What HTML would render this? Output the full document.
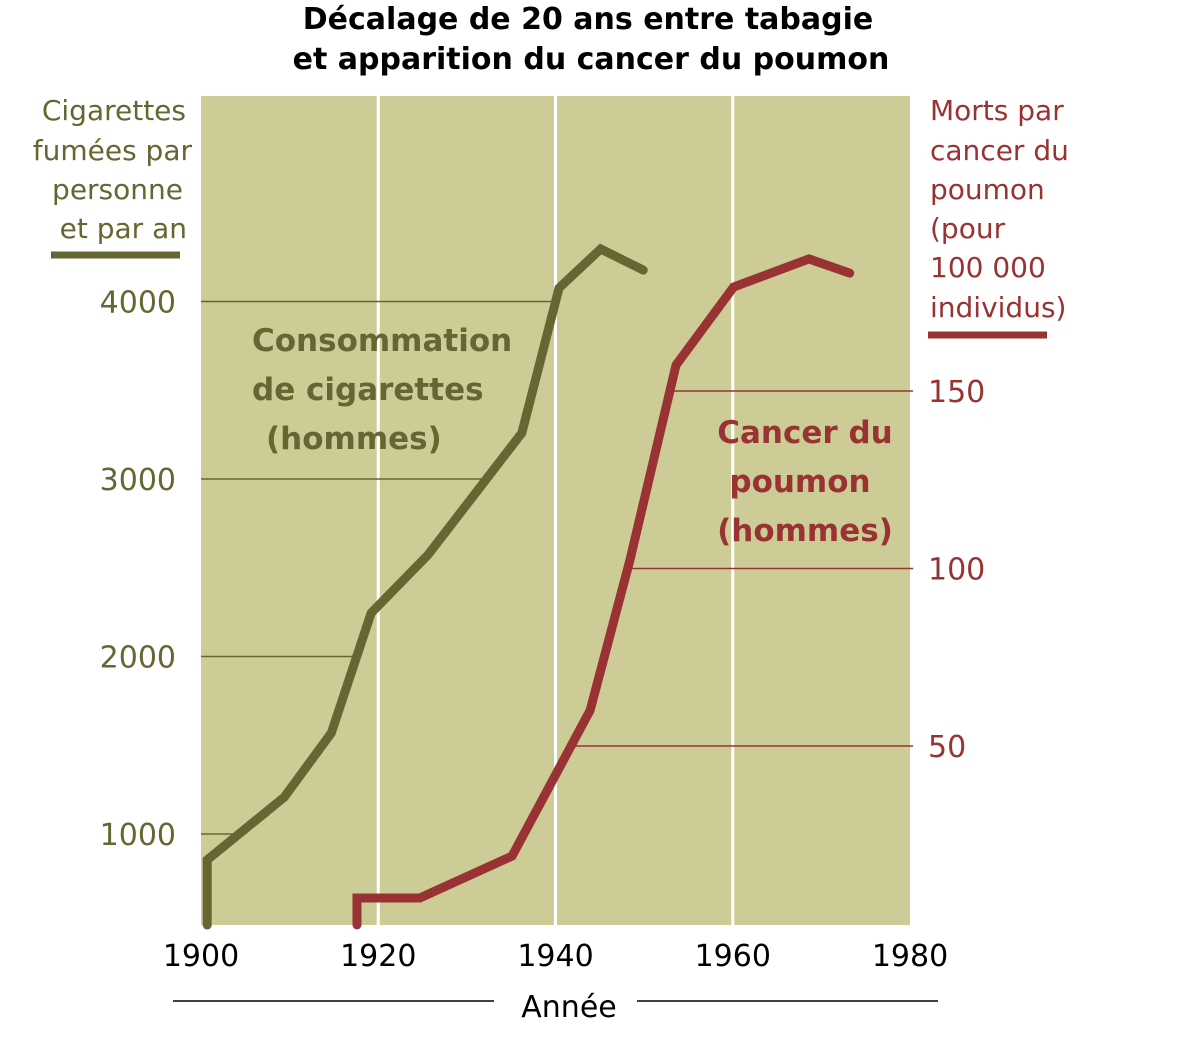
<!DOCTYPE html>
<html><head><meta charset="utf-8"><style>
body{margin:0;background:#fff;}
svg{display:block;font-family:"DejaVu Sans","Liberation Sans",sans-serif;}
</style></head><body>
<svg id="chart" width="1200" height="1043" viewBox="0 0 1200 1043" xmlns="http://www.w3.org/2000/svg">
<text x="588" y="29" text-anchor="middle" font-size="30" font-weight="bold" fill="#000">Décalage de 20 ans entre tabagie</text>
<text x="591" y="69" text-anchor="middle" font-size="30" font-weight="bold" fill="#000">et apparition du cancer du poumon</text>
<rect x="201" y="96" width="709" height="829" fill="#cdcc97"/>
<g id="grid"></g>
<g id="axes"></g>
<g id="series"></g>
<g font-size="28" fill="#666633" text-anchor="end">
<text x="186" y="120">Cigarettes</text><text x="192" y="160">fumées par</text><text x="183" y="199">personne</text><text x="187" y="238">et par an</text>
</g>
<line x1="51" y1="255" x2="180" y2="255" stroke="#666633" stroke-width="7"/>
<g font-size="28" fill="#993333">
<text x="930" y="120">Morts par</text><text x="930" y="160">cancer du</text><text x="930" y="199">poumon</text><text x="930" y="238">(pour</text><text x="930" y="277">100 000</text><text x="930" y="317">individus)</text>
</g>
<line x1="928" y1="335" x2="1047" y2="335" stroke="#993333" stroke-width="7"/>
<g font-size="31" font-weight="bold" fill="#666633">
<text x="252" y="351">Consommation</text><text x="252" y="400">de cigarettes</text><text x="266" y="449">(hommes)</text>
</g>
<g font-size="31" font-weight="bold" fill="#993333" text-anchor="middle">
<text x="805" y="443">Cancer du</text><text x="800" y="492">poumon</text><text x="805" y="541">(hommes)</text>
</g>
<text x="569" y="1017" text-anchor="middle" font-size="30" fill="#000">Année</text>
<line x1="173" y1="1001" x2="494" y2="1001" stroke="#000" stroke-width="1.5"/>
<line x1="637" y1="1001" x2="938" y2="1001" stroke="#000" stroke-width="1.5"/>
</svg>
<script>
const xTicks=[1900,1920,1940,1960,1980];
const leftTicks=[1000,2000,3000,4000];
const rightTicks=[50,100,150];
const cigYears=[1900.7,1900.7,1909.4,1914.7,1919.2,1925.6,1936.2,1940.4,1945.1,1949.9];
const cigValues=[487,854,1208,1569,2245,2572,3259,4076,4296,4177];
const cancerYears=[1917.6,1917.6,1924.7,1935.1,1943.9,1948.4,1953.6,1960.1,1968.6,1973.2];
const cancerValues=[-0.4,7.2,7.2,19,60,102.4,157.3,179.3,187.2,183.2];

const NS='http://www.w3.org/2000/svg';
const X=y=>201+(y-1900)*8.8625;
const YL=v=>1011.5-v*0.1775;
const YR=v=>923.5-v*3.55;
function mk(tag,attrs,parent,text){const e=document.createElementNS(NS,tag);for(const k in attrs)e.setAttribute(k,attrs[k]);if(text!==undefined)e.textContent=text;parent.appendChild(e);return e;}
const grid=document.getElementById('grid'),axes=document.getElementById('axes'),series=document.getElementById('series');
function interpX(years,vals,yfn,target){ // x where series crosses pixel y target
  for(let i=1;i<years.length;i++){const y0=yfn(vals[i-1]),y1=yfn(vals[i]);
    if((y0-target)*(y1-target)<=0&&y0!==y1){const t=(target-y0)/(y1-y0);return X(years[i-1])+t*(X(years[i])-X(years[i-1]));}}
  return 910;}
xTicks.forEach(t=>{
  if(t>1900&&t<1980){const l=mk('line',{x1:X(t),y1:96,x2:X(t),y2:925,stroke:'#fff','stroke-width':3},grid);
    
    }
  const tx=mk('text',{x:X(t),y:966,'text-anchor':'middle','font-size':30,fill:'#000'},axes,String(t));
  
  
});
leftTicks.forEach(t=>{
  const y=YL(t);
  const l=mk('line',{x1:201,y1:y,x2:interpX(cigYears,cigValues,YL,y),y2:y,stroke:'#666633','stroke-width':1.5},grid);
  
  
  const tx=mk('text',{x:176,y:y+11,'text-anchor':'end','font-size':30,fill:'#666633'},axes,String(t));
  
  
});
rightTicks.forEach(t=>{
  const y=YR(t);
  const l=mk('line',{x1:interpX(cancerYears,cancerValues,YR,y),y1:y,x2:913,y2:y,stroke:'#993333','stroke-width':1.5},grid);
  
  
  const tx=mk('text',{x:928,y:y+11,'font-size':30,fill:'#993333'},axes,String(t));
  
  
});
const cig=mk('polyline',{points:cigYears.map((y,i)=>X(y)+','+YL(cigValues[i])).join(' '),fill:'none',stroke:'#666633','stroke-width':9,'stroke-linecap':'round','stroke-linejoin':'miter'},series);


const can=mk('polyline',{points:cancerYears.map((y,i)=>X(y)+','+YR(cancerValues[i])).join(' '),fill:'none',stroke:'#993333','stroke-width':9,'stroke-linecap':'round','stroke-linejoin':'miter'},series);


</script>
</body></html>
